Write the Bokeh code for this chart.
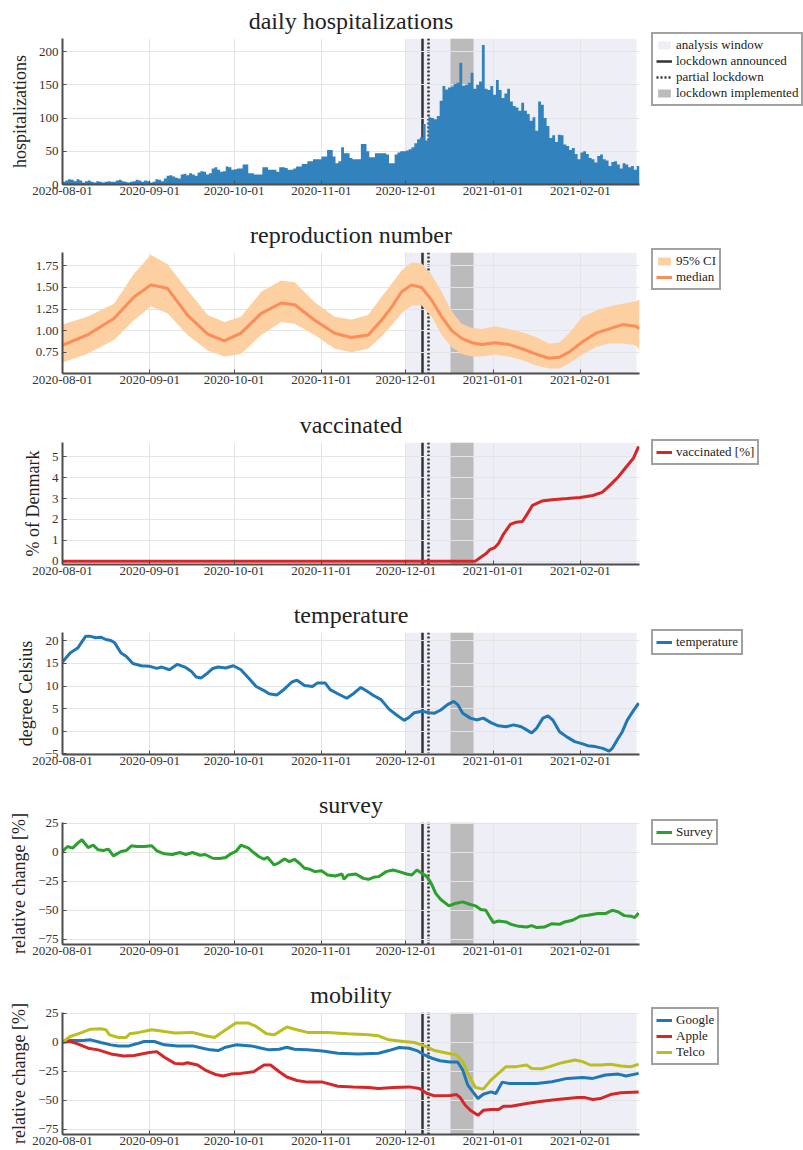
import numpy as np
import pandas as pd
from bokeh.plotting import figure
from bokeh.layouts import column
from bokeh.models import (Legend, LegendItem, FixedTicker, DatetimeTickFormatter, Range1d)
from bokeh.embed import file_html
from bokeh.resources import INLINE

# ---------------- data ----------------
START = "2020-08-01"
X_END = "2021-02-22"
month_ticks = ["2020-08-01", "2020-09-01", "2020-10-01", "2020-11-01",
               "2020-12-01", "2021-01-01", "2021-02-01"]
analysis_window = ["2020-12-01", "2021-02-21"]
lockdown_announced = "2020-12-07"
partial_lockdown = "2020-12-09"
lockdown_implemented = ["2020-12-17", "2020-12-25"]

# daily hospitalizations from 2020-08-01
hospitalizations = [
    4, 6, 8, 7, 5, 8, 6,
    3, 5, 6, 4, 3, 5, 4,
    3, 4, 5, 4, 4, 6, 7,
    5, 4, 3, 4, 5, 7, 6,
    4, 6, 5, 3, 4, 8, 7,
    5, 9, 13, 14, 12, 10, 9,
    15, 16, 14, 17, 15, 13, 18,
    20, 19, 15, 17, 24, 26, 22,
    19, 20, 27, 26, 22, 23, 24,
    24, 30, 30, 17, 17, 15, 15,
    15, 26, 26, 22, 22, 22, 19,
    26, 26, 25, 22, 22, 24, 27,
    27, 31, 31, 35, 35, 38, 38,
    38, 42, 42, 52, 52, 42, 32,
    35, 56, 47, 47, 40, 38, 38,
    38, 61, 61, 50, 41, 41, 47,
    47, 47, 47, 45, 32, 32, 45,
    48, 50, 50, 51, 53, 56, 62,
    68, 71, 91, 66, 101, 100, 98,
    103, 126, 148, 143, 146, 147, 151,
    153, 183, 148, 150, 153, 168, 144,
    150, 155, 210, 144, 142, 148, 135,
    157, 142, 130, 137, 144, 125, 118,
    116, 111, 123, 111, 106, 96, 101,
    81, 125, 120, 100, 88, 70, 74,
    64, 75, 74, 60, 58, 52, 55,
    46, 38, 48, 50, 46, 40, 38,
    33, 43, 45, 38, 36, 28, 34,
    35, 30, 24, 32, 30, 26, 28,
    22, 28, 30,
]

# reproduction number (days since 2020-08-01)
r_day = [0, 8.8, 18.3, 25.4, 31.4, 37.3, 44.4, 51.6, 57.5, 63.4, 70.6, 77.7, 82.5,
         89.6, 96.7, 102.6, 108.6, 113.3, 116.9, 120.5, 124, 127.6, 131.2, 134.7,
         138.3, 141.8, 145.4, 149, 153.7, 158.5, 163.3, 168, 172.8, 176.4, 180,
         184.7, 189.5, 194.2, 199, 203.7, 205]
r_median = [0.83, 0.95, 1.14, 1.39, 1.53, 1.49, 1.18, 0.96, 0.88, 0.97, 1.20, 1.32, 1.30,
            1.12, 0.97, 0.92, 0.95, 1.12, 1.27, 1.45, 1.53, 1.50, 1.35, 1.16,
            1.00, 0.91, 0.86, 0.84, 0.86, 0.84, 0.79, 0.73, 0.68, 0.69, 0.75,
            0.87, 0.97, 1.02, 1.07, 1.05, 1.02]
r_upper = [1.07, 1.16, 1.31, 1.66, 1.88, 1.77, 1.47, 1.18, 1.10, 1.16, 1.45, 1.58, 1.56,
           1.33, 1.16, 1.13, 1.18, 1.39, 1.54, 1.70, 1.79, 1.78, 1.64, 1.45,
           1.22, 1.08, 1.03, 1.02, 1.05, 1.02, 0.98, 0.93, 0.85, 0.86, 0.97,
           1.16, 1.23, 1.28, 1.31, 1.34, 1.36]
r_lower = [0.63, 0.73, 0.89, 1.12, 1.28, 1.20, 0.95, 0.77, 0.70, 0.73, 0.95, 1.10, 1.08,
           0.95, 0.79, 0.75, 0.79, 0.93, 1.06, 1.20, 1.29, 1.29, 1.16, 0.95,
           0.81, 0.73, 0.70, 0.70, 0.72, 0.70, 0.66, 0.60, 0.56, 0.56, 0.62,
           0.72, 0.81, 0.85, 0.85, 0.83, 0.77]

# vaccinated [%]
vacc_day = [0, 146.7, 148.6, 150.4, 151.8, 153.6, 154.9, 156.7, 159.1, 161.2, 163.4,
            165.2, 167, 170.3, 173.9, 179.3, 183.9, 188.4, 191.7, 193.8, 195.7,
            197.5, 200.2, 202.9, 204.7]
vaccinated = [0, 0, 0.19, 0.35, 0.55, 0.65, 0.85, 1.3, 1.76, 1.87, 1.9,
              2.28, 2.68, 2.88, 2.95, 3.0, 3.05, 3.15, 3.3, 3.55, 3.8,
              4.05, 4.5, 4.95, 5.5]

# temperature [deg C]
temp_day = [0, 2.7, 5.4, 8.2, 10, 11.8, 13.6, 15.4, 17.2, 18.5, 20.8, 22.6, 25, 28, 30.8,
            33.5, 35.3, 38, 40.8, 43.5, 45.7, 47.5, 49.3, 51.6, 53.4, 55.3, 58, 60.7,
            63.4, 66.1, 68.8, 71.6, 73.4, 76.1, 78.8, 81.5, 83.3, 86, 88.8, 90.6, 93.3,
            95.1, 97.8, 101, 103.3, 106, 107.8, 110.5, 113.2, 116, 118.7, 121.4, 123.2,
            125, 127.7, 130.4, 132.2, 134.4, 136.8, 139, 140.4, 142.2, 144.9, 147.1,
            149.5, 152.2, 154.9, 157.6, 160.3, 163, 164.9, 166.7, 168.5, 170.7, 172.5,
            174.3, 176.6, 179.3, 182, 184.8, 186.6, 189.3, 192, 194.2, 195.3, 197.1,
            198.9, 200.7, 202.9, 204.7]
temperature = [15.3, 17.3, 18.4, 21.0, 21.0, 20.7, 20.8, 20.3, 20.1, 19.6, 17.3, 16.6, 15.0,
               14.5, 14.4, 13.9, 14.2, 13.6, 14.8, 14.2, 13.3, 12.0, 11.8, 12.9, 13.9,
               14.2, 14.0, 14.5, 13.6, 11.8, 9.9, 9.0, 8.3, 8.0, 9.3, 10.9, 11.3, 10.1,
               9.9, 10.7, 10.7, 9.2, 8.3, 7.3, 8.3, 9.7, 9.0, 7.9, 7.0, 4.9, 3.6, 2.4,
               3.1, 4.1, 4.4, 4.1, 4.0, 4.7, 5.9, 6.6, 5.9, 4.0, 2.9, 2.5, 2.9, 1.9, 1.2,
               1.0, 1.4, 1.0, 0.3, -0.4, 0.7, 2.9, 3.4, 2.4, -0.1, -1.3, -2.3, -2.8,
               -3.2, -3.4, -3.8, -4.4, -3.8, -1.9, -0.1, 2.5, 4.6, 6.2]

# survey [% relative change]
survey_day = [0, 1.8, 3.6, 5.4, 6.9, 9.1, 10.9, 12.7, 14.5, 16.3, 18.1, 20.8, 22.6, 24.5,
              26.3, 29, 31.7, 33.5, 36.2, 39, 41.7, 43.8, 46.2, 48.9, 50.7, 53.4, 55.8,
              58, 59.8, 61.6, 63.4, 66.1, 67.9, 69.7, 71.6, 72.8, 75.2, 77, 78.8, 80.6,
              82.4, 84.2, 86, 87.9, 89.7, 92, 94.2, 96.9, 99.3, 100, 101.4, 104.2, 106.9,
              108.7, 110.5, 112.3, 115, 117.4, 119.6, 122.3, 124.1, 125.9, 127.7, 129.5,
              131, 132.6, 134.4, 137.3, 139.5, 142.2, 144.6, 146.7, 148.6, 150.4, 151.8,
              153.1, 154.9, 157.6, 159.4, 162.1, 164.9, 166.7, 168.5, 171.2, 173.9,
              176.6, 178.4, 181.2, 183.9, 186.6, 190.2, 192.9, 195.3, 197.5, 199.6, 202,
              203.3, 204.7]
survey = [0.6, 4.9, 3.5, 7.8, 10.7, 4.0, 6.0, 2.0, 1.4, 2.6, -3.2, 0.6, 1.4, 5.5,
          4.9, 4.9, 5.5, 1.2, -1.4, -2.0, -0.3, -2.0, -0.3, -2.6, -2.0, -5.2, -5.5,
          -4.6, -1.4, 0.6, 6.0, 3.5, -0.3, -3.7, -6.1, -4.3, -11.0, -8.9, -5.8, -8.1,
          -6.1, -9.5, -13.8, -14.7, -16.7, -15.9, -19.6, -20.5, -18.7, -23.3, -19.6,
          -18.7, -22.5, -23.3, -21.6, -21.0, -16.7, -15.3, -16.7, -18.7, -19.6, -15.3,
          -18.2, -21.0, -26.8, -35.4, -40.6, -46.1, -44.1, -42.7, -44.7, -46.1, -49.3,
          -49.9, -55.6, -60.5, -59.1, -59.9, -62.0, -63.7, -64.3, -63.1, -64.8, -64.3,
          -61.4, -62.0, -59.9, -58.5, -55.0, -54.2, -52.7, -52.7, -49.9, -51.3, -54.5,
          -55.0, -56.2, -52.2]

# mobility [% relative change]
google_day = [0, 2.7, 7.2, 10, 13.6, 17.2, 19.9, 23.6, 26.3, 29, 32.6, 36.2, 40.8, 46.2,
              49.8, 52.5, 55.3, 58, 61.6, 67, 70.7, 73.4, 77, 79.7, 82.4, 87, 92.4, 97.8,
              105, 112.3, 115.9, 119.6, 123.2, 125.9, 128.6, 131.3, 134.1, 137.7, 140.4,
              142.2, 144, 145.8, 147.6, 149.5, 152.2, 154, 156.2, 158.5, 163, 168.5,
              173.9, 179.3, 184.8, 188.4, 192.9, 197.5, 200.2, 204.7]
google = [0, 1.4, 1.4, 2.0, -0.3, -2.3, -3.2, -3.2, -1.4, 0.6, 0.6, -2.3, -3.2, -3.2,
          -5.2, -6.6, -7.2, -4.3, -2.3, -3.2, -5.2, -6.6, -6.1, -4.3, -6.1, -6.6, -7.5,
          -9.5, -10.1, -9.5, -7.2, -4.6, -5.2, -7.2, -11.0, -13.8, -15.9, -17.0, -17.0,
          -23.9, -36.9, -42.7, -48.4, -44.7, -42.7, -44.1, -34.3, -35.4, -35.4, -35.4,
          -34.0, -31.1, -30.3, -31.1, -28.2, -27.4, -29.1, -26.8]
apple_day = [0, 2.7, 5.4, 9.1, 12.7, 17.2, 21.7, 25.4, 28.1, 30.8, 33.5, 36.2, 39.9, 42.6,
             44.4, 48, 50.7, 54.3, 57.1, 59.8, 63.4, 67.9, 71.6, 73.9, 77, 79.7, 83.3, 87,
             92.4, 97.8, 103.3, 108.7, 112.3, 117.8, 123.2, 126.8, 129.5, 132.2, 137.7,
             140, 141.3, 143.1, 144.9, 147.6, 149.5, 152.2, 154.9, 156.7, 159.4, 164.9,
             170.3, 175.7, 183, 185.7, 188.4, 191.1, 194.7, 198.4, 204.7]
apple = [0, 0.6, -1.4, -5.2, -6.6, -10.1, -11.8, -11.5, -10.1, -8.9, -8.1, -13.0, -18.2,
         -18.7, -17.6, -19.6, -23.9, -27.7, -29.1, -27.4, -26.8, -25.4, -19.6, -19.6,
         -25.4, -29.9, -32.9, -34.3, -34.3, -37.8, -38.4, -38.9, -39.8, -38.9, -38.4,
         -39.8, -44.1, -46.1, -45.8, -45.0, -47.6, -54.2, -58.5, -62.8, -58.5, -57.9,
         -57.9, -55.0, -55.0, -52.7, -50.7, -49.3, -47.6, -47.6, -49.3, -48.4, -45.0,
         -43.5, -42.7]
telco_day = [0, 2.7, 6.3, 10, 13.6, 15.4, 16.7, 19.9, 22.6, 23.9, 27.2, 31.7, 34.4, 39.9,
             46.2, 50.7, 54, 58, 61.6, 66.1, 68.8, 72.5, 75.2, 79.7, 83.3, 87, 94.2, 101.4,
             108.7, 112.3, 115.9, 121.4, 125, 128.6, 132.2, 136.8, 140, 142.2, 144, 146.7,
             149.5, 152.2, 154.9, 157.6, 161.2, 164.9, 166.7, 170.3, 173, 177.5, 182.1,
             184.8, 187.5, 191.1, 194.7, 198.4, 202, 204.7]
telco = [0, 4.9, 7.8, 11.2, 11.5, 10.7, 6.3, 4.0, 4.0, 7.2, 8.4, 10.7, 9.8, 7.8, 8.4,
         5.5, 4.0, 10.7, 16.4, 16.4, 13.5, 7.2, 6.3, 13.0, 10.7, 8.4, 8.4, 7.2, 6.3, 5.5,
         2.0, 0.6, -0.3, -3.2, -7.2, -9.5, -11.0, -16.7, -26.8, -38.9, -40.3, -32.6,
         -26.8, -21.0, -21.0, -19.6, -22.5, -22.8, -21.0, -17.6, -15.3, -16.7, -19.6,
         -19.6, -19.0, -20.5, -21.0, -19.0]

hosp_ticks = [0, 50, 100, 150, 200]
r_ticks = [0.75, 1.0, 1.25, 1.5, 1.75]
r_tick_labels = ["0.75", "1.00", "1.25", "1.50", "1.75"]
vacc_ticks = [0, 1, 2, 3, 4, 5]
temp_ticks = [-5, 0, 5, 10, 15, 20]
change_ticks = [-75, -50, -25, 0, 25]

# ---------------- styling helpers ----------------
FONT = "Liberation Serif"
FRAME_W = 577
C_WINDOW = "#c8c8e0"
C_IMPL = "#bbbbbb"
C_LINE = "#333333"
C_AXIS = "#4d4d4d"


def to_dt(days):
    return pd.Timestamp(START) + pd.to_timedelta(np.asarray(days, dtype=float), unit="D")


def ms(s):
    return pd.Timestamp(s).timestamp() * 1000.0


def tick_label(v):
    if isinstance(v, float) and not v.is_integer():
        return str(v)
    v = int(v)
    return ("\u2212" + str(-v)) if v < 0 else str(v)


def make_fig(title, ylabel, frame_h, yr, yticks, ylabels=None, bottom=30):
    p = figure(frame_width=FRAME_W, frame_height=frame_h, x_axis_type="datetime",
               x_range=Range1d(ms(START), ms(X_END)), y_range=Range1d(*yr),
               output_backend="svg", toolbar_location=None,
               min_border_left=62, min_border_right=164, min_border_top=38,
               min_border_bottom=bottom)
    p.outline_line_color = None
    p.background_fill_color = "white"
    p.border_fill_color = "white"
    p.title.text = title
    p.title.align = "center"
    p.title.text_font = FONT
    p.title.text_font_size = "24px"
    p.title.text_font_style = "normal"
    p.title.text_color = "#222222"
    p.title.standoff = 9
    for ax in (p.xaxis[0], p.yaxis[0]):
        ax.axis_line_color = C_AXIS
        ax.axis_line_width = 2
        ax.major_tick_in = 4
        ax.major_tick_out = 0
        ax.major_tick_line_color = C_AXIS
        ax.minor_tick_line_color = None
        ax.major_label_text_font = FONT
        ax.major_label_text_font_size = "13px"
        ax.major_label_text_color = "#333333"
        ax.major_label_standoff = 4
    p.xaxis.ticker = FixedTicker(ticks=[ms(t) for t in month_ticks])
    fmt = "%Y-%m-%d"
    p.xaxis.formatter = DatetimeTickFormatter(days=fmt, months=fmt, years=fmt, hours=fmt)
    p.xaxis.major_label_standoff = 2
    p.yaxis.ticker = FixedTicker(ticks=yticks)
    if ylabels is None:
        ylabels = [tick_label(v) for v in yticks]
    p.yaxis.major_label_overrides = {float(k): v for k, v in zip(yticks, ylabels)}
    if ylabel:
        p.yaxis.axis_label = ylabel
        p.yaxis.axis_label_text_font = FONT
        p.yaxis.axis_label_text_font_size = "18px"
        p.yaxis.axis_label_text_font_style = "normal"
        p.yaxis.axis_label_text_color = "#222222"
        p.yaxis.axis_label_standoff = 6
    for g in (p.xgrid[0], p.ygrid[0]):
        g.grid_line_color = "#e4e4e4"
        g.grid_line_width = 1
    # events (full-height glyphs, so they can appear in a legend)
    ev = {}
    ev["window"] = p.vstrip(x0=[ms(analysis_window[0])], x1=[ms(analysis_window[1])],
                            fill_color=C_WINDOW, fill_alpha=0.3, line_color=None,
                            level="underlay")
    ev["impl"] = p.vstrip(x0=[ms(lockdown_implemented[0])], x1=[ms(lockdown_implemented[1])],
                          fill_color=C_IMPL, fill_alpha=1.0, line_color=None,
                          level="underlay")
    ev["announced"] = p.vspan(x=[ms(lockdown_announced)], line_color=C_LINE,
                              line_width=2.5, level="underlay")
    ev["partial"] = p.vspan(x=[ms(partial_lockdown)], line_color=C_LINE, line_width=2.5,
                            line_dash="2 2", level="underlay")
    return p, ev


def add_legend(p, items, frame_h):
    row = 15
    pad = 3
    h = 2 * pad + row * len(items) + 2
    leg = Legend(items=items, location=(12, frame_h - h),
                 label_text_font=FONT, label_text_font_size="13px",
                 label_text_color="#222222", label_height=row, glyph_height=10,
                 glyph_width=16, label_standoff=4, spacing=0, padding=pad, margin=0,
                 border_line_color="#444444", border_line_width=2,
                 background_fill_color="white", background_fill_alpha=1.0)
    p.add_layout(leg, "right")


# ---------------- panel 1: hospitalizations ----------------
H1 = 146
p1, ev1 = make_fig("daily hospitalizations", "hospitalizations", H1, (0, 219.6),
                   hosp_ticks, bottom=30)
hosp_dates = pd.date_range(START, periods=len(hospitalizations), freq="D")
p1.varea_step(x=hosp_dates, y1=[0] * len(hospitalizations), y2=hospitalizations,
              step_mode="after", fill_color="#3182bd")
add_legend(p1, [LegendItem(label="analysis window", renderers=[ev1["window"]]),
                LegendItem(label="lockdown announced", renderers=[ev1["announced"]]),
                LegendItem(label="partial lockdown", renderers=[ev1["partial"]]),
                LegendItem(label="lockdown implemented", renderers=[ev1["impl"]])], H1)

# ---------------- panel 2: reproduction number ----------------
H2 = 121
p2, _ = make_fig("reproduction number", None, H2, (0.503, 1.905), r_ticks, r_tick_labels,
                 bottom=31)
rd = to_dt(r_day)
ci = p2.varea(x=rd, y1=r_lower, y2=r_upper, fill_color="#fdd0a2", fill_alpha=1.0)
med = p2.line(x=rd, y=r_median, line_color="#fc8d59", line_width=3)
add_legend(p2, [LegendItem(label="95% CI", renderers=[ci]),
                LegendItem(label="median", renderers=[med])], H2)

# ---------------- panel 3: vaccinated ----------------
H3 = 122
p3, _ = make_fig("vaccinated", "% of Denmark", H3, (-0.16, 5.69), vacc_ticks)
vl = p3.line(x=to_dt(vacc_day), y=vaccinated, line_color="#d62728", line_width=3)
add_legend(p3, [LegendItem(label="vaccinated [%]", renderers=[vl])], H3)

# ---------------- panel 4: temperature ----------------
p4, _ = make_fig("temperature", "degree Celsius", H3, (-5.15, 21.85), temp_ticks)
tl = p4.line(x=to_dt(temp_day), y=temperature, line_color="#1f77b4", line_width=3)
add_legend(p4, [LegendItem(label="temperature", renderers=[tl])], H3)

# ---------------- panel 5: survey ----------------
p5, _ = make_fig("survey", "relative change [%]", H3, (-79.3, 25.5), change_ticks)
sl = p5.line(x=to_dt(survey_day), y=survey, line_color="#2ca02c", line_width=3)
add_legend(p5, [LegendItem(label="Survey", renderers=[sl])], H3)

# ---------------- panel 6: mobility ----------------
p6, _ = make_fig("mobility", "relative change [%]", H3, (-79.3, 25.5), change_ticks,
                 bottom=16)
gl = p6.line(x=to_dt(google_day), y=google, line_color="#1f77b4", line_width=3)
al = p6.line(x=to_dt(apple_day), y=apple, line_color="#d62728", line_width=3)
cl = p6.line(x=to_dt(telco_day), y=telco, line_color="#bcbd22", line_width=3)
add_legend(p6, [LegendItem(label="Google", renderers=[gl]),
                LegendItem(label="Apple", renderers=[al]),
                LegendItem(label="Telco", renderers=[cl])], H3)

layout = column(p1, p2, p3, p4, p5, p6, spacing=0)
open("out.html", "w").write(file_html(layout, INLINE))
